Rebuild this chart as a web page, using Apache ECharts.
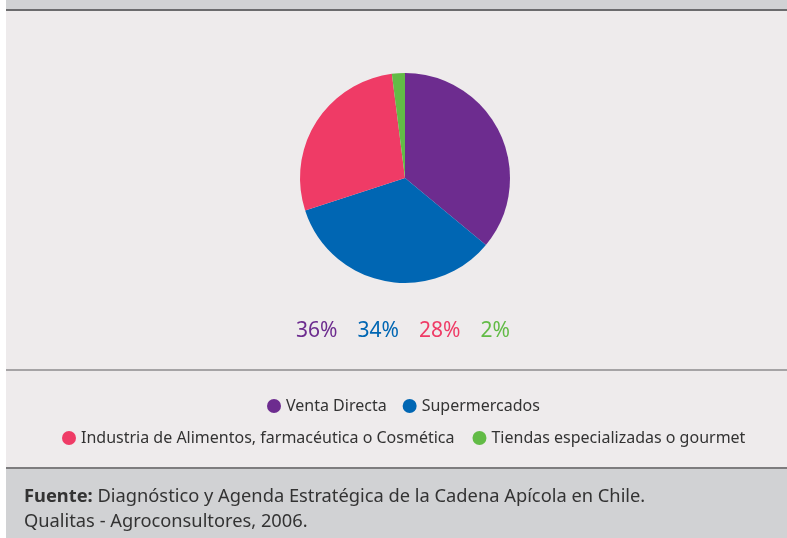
<!DOCTYPE html>
<html><head><meta charset="utf-8">
<script src="https://cdn.jsdelivr.net/npm/echarts@6/dist/echarts.min.js"></script>
<style>html,body{margin:0;padding:0;background:#fff}#c{width:787px;height:538px}</style>
</head><body><div id="c"></div>
<script>
const categories = ['Venta Directa','Supermercados','Industria de Alimentos, farmacéutica o Cosmética','Tiendas especializadas o gourmet'];
const values = [36, 34, 28, 2];
const colors = ['#6d2c8f','#0066b3','#ef3b66','#62bb46'];
const legendRow1 = ['Venta Directa','Supermercados'];
const legendRow2 = ['Industria de Alimentos, farmacéutica o Cosmética','Tiendas especializadas o gourmet'];
const FONT = 'Noto Sans';

const rich = {};
values.forEach((v,i)=>{ rich['c'+i] = {color: colors[i], fontSize: 21, fontWeight:'normal', fontFamily: FONT, padding:[0,10,0,10]}; });

const chart = echarts.init(document.getElementById('c'), null, {renderer:'canvas'});
chart.setOption({
  backgroundColor: '#ffffff',
  animation: false,
  graphic: [
    {type:'rect', z:-10, shape:{x:6,y:0,width:781,height:10}, style:{fill:'#d1d2d4'}},
    {type:'rect', z:-10, shape:{x:6,y:10,width:781,height:458}, style:{fill:'#eeebec'}},
    {type:'rect', z:-9, shape:{x:6,y:9,width:781,height:2}, style:{fill:'#6b6b6d'}},
    {type:'rect', z:-9, shape:{x:6,y:369,width:781,height:2}, style:{fill:'#a5a3a5'}},
    {type:'rect', z:-10, shape:{x:6,y:468,width:781,height:70}, style:{fill:'#d1d2d4'}},
    {type:'rect', z:-9, shape:{x:6,y:467,width:781,height:2}, style:{fill:'#7d7c7e'}},
    {type:'text', left:24, top:484, style:{
      text:'{b|Fuente:} Diagnóstico y Agenda Estratégica de la Cadena Apícola en Chile.\nQualitas - Agroconsultores, 2006.',
      rich:{b:{fontWeight:'bold', fontSize:18.3, fontFamily:FONT, fill:'#333', lineHeight:25}},
      fontSize:18.3, fontFamily:FONT, fill:'#333', lineHeight:25}}
  ],
  title: {
    text: values.map((v,i)=>'{c'+i+'|'+v+'%}').join(''),
    left: 286, top: 321, padding:0,
    textStyle: {rich: rich, fontSize: 21, fontWeight:'normal'}
  },
  legend: [
    {data: legendRow1, top: 398, left:267, padding:0, icon:'circle', itemWidth:14, itemHeight:14, itemGap:16,
     textStyle:{fontSize:16, fontFamily:FONT, color:'#333'}},
    {data: legendRow2, top: 430, left:62, padding:0, icon:'circle', itemWidth:14, itemHeight:14, itemGap:18,
     textStyle:{fontSize:16, fontFamily:FONT, color:'#333'}}
  ],
  series: [{
    type:'pie', center:[405,178], radius:105, startAngle:90, clockwise:true,
    label:{show:false}, labelLine:{show:false},
    emphasis:{disabled:true},
    itemStyle:{borderWidth:0},
    data: categories.map((c,i)=>({name:c, value:values[i], itemStyle:{color:colors[i]}}))
  }]
});
</script></body></html>
